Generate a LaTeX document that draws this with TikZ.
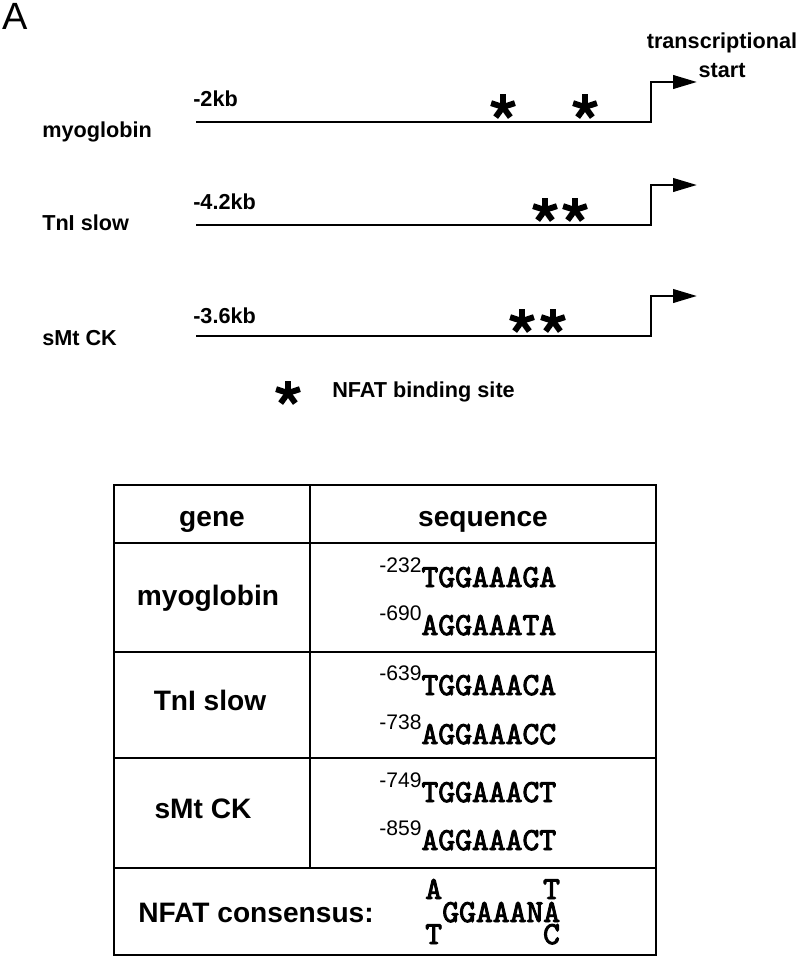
\documentclass[tikz,border=0pt]{standalone}
\usepackage{fontspec}
\setmainfont{Liberation Sans}
\newfontfamily\seqfamily{lmmono10-regular.otf}[FakeBold=3]
\usetikzlibrary{arrows.meta, positioning}
\newcommand{\labelfont}{\fontsize{15.4}{18}\selectfont\bfseries}
\newcommand{\cellfont}{\fontsize{20}{24}\selectfont\bfseries}
\newcommand{\seqfont}{\seqfamily\fontsize{22.8}{26}\selectfont}
\newcommand{\posfont}{\fontsize{15}{18}\selectfont}
\newcommand{\SeqSite}[2]{\raisebox{10pt}{\posfont #1}{\seqfont #2}}
\tikzset{
    gene/.style={line width=2pt},
    tss/.style={gene, -{Triangle[length=17pt, width=9.5pt]}},
    grid line/.style={line width=2pt},
    lbl/.style={inner sep=0pt, font=\labelfont},
    cell/.style={inner sep=0pt, font=\cellfont},
    seq/.style={inner sep=0pt, anchor=base west},
    nfat star/.pic={
    \foreach \a in {-90,-18,54,126,198}
      \draw[line width=4.2pt] (0,0) -- (\a:12.5);
    },
}

\begin{document}
\begin{tikzpicture}[x=0.025cm, y=-0.025cm]
    \useasboundingbox (0,0) rectangle (800,959);

    \node[inner sep=0pt, anchor=base west, font=\fontsize{27}{31}\selectfont] (panel) at (2,30) {A};

    % promoter maps
    \node[lbl, anchor=base west] (myo) at (42,137) {myoglobin};
    \node[lbl, anchor=base west] (myo-kb) at (193,107) {-2kb};
    \coordinate (myo-a) at (196,122);
    \coordinate (myo-b) at (651,122);
    \coordinate (myo-c) at (697,82);
    \draw[tss] (myo-a) -- (myo-b) |- (myo-c);
    \pic (myo-s1) at (503,107) {nfat star};
    \pic (myo-s2) at (585,107) {nfat star};

    \node[lbl, anchor=base] (tss-1) at (722,49) {transcriptional};
    \node[lbl, anchor=base] (tss-2) at (722,77) {start};

    \node[lbl, anchor=base west] (tni) at (42,230) {TnI slow};
    \node[lbl, anchor=base west] (tni-kb) at (193,209) {-4.2kb};
    \coordinate (tni-a) at (196,225);
    \coordinate (tni-b) at (651,225);
    \coordinate (tni-c) at (697,185);
    \draw[tss] (tni-a) -- (tni-b) |- (tni-c);
    \pic (tni-s1) at (545,210) {nfat star};
    \pic (tni-s2) at (575,210) {nfat star};

    \node[lbl, anchor=base west] (smt) at (42,345) {sMt CK};
    \node[lbl, anchor=base west] (smt-kb) at (193,323) {-3.6kb};
    \coordinate (smt-a) at (196,336);
    \coordinate (smt-b) at (651,336);
    \coordinate (smt-c) at (697,296);
    \draw[tss] (smt-a) -- (smt-b) |- (smt-c);
    \pic (smt-s1) at (522,321) {nfat star};
    \pic (smt-s2) at (553,321) {nfat star};

    \pic (key-star) at (288,393) {nfat star};
    \node[lbl, anchor=base west] (key) at (332,397) {NFAT binding site};

    % table
    \draw[grid line] (114,485) rectangle (656,955);
    \foreach \y in {543,652,758,868}
      \draw[grid line] (114,\y) -- (656,\y);
    \draw[grid line] (310,485) -- (310,868);

    \node[cell, anchor=base] (gene-head) at (212,526) {gene};
    \node[cell, anchor=base] (seq-head) at (483,526) {sequence};
    \node[cell, anchor=base] (myo-row) at (208,605) {myoglobin};
    \node[cell, anchor=base] (tni-row) at (210,710) {TnI slow};
    \node[cell, anchor=base] (smt-row) at (203,818) {sMt CK};
    \node[cell, anchor=base west] (cons-row) at (138,922) {NFAT consensus:};

    \node[seq] (myo-seq1) at (379,587) {\SeqSite{-232}{TGGAAAGA}};
    \node[seq] (myo-seq2) at (379,635) {\SeqSite{-690}{AGGAAATA}};
    \node[seq] (tni-seq1) at (379,695) {\SeqSite{-639}{TGGAAACA}};
    \node[seq] (tni-seq2) at (379,744) {\SeqSite{-738}{AGGAAACC}};
    \node[seq] (smt-seq1) at (379,802) {\SeqSite{-749}{TGGAAACT}};
    \node[seq] (smt-seq2) at (379,850) {\SeqSite{-859}{AGGAAACT}};

    \node[seq, font=\seqfont] (cons-top) at (425,899) {A\hspace{3.15em}T};
    \node[seq, font=\seqfont] (cons-mid) at (442,922) {GGAAANA};
    \node[seq, font=\seqfont] (cons-bot) at (425,944) {T\hspace{3.15em}C};
\end{tikzpicture}
\end{document}
